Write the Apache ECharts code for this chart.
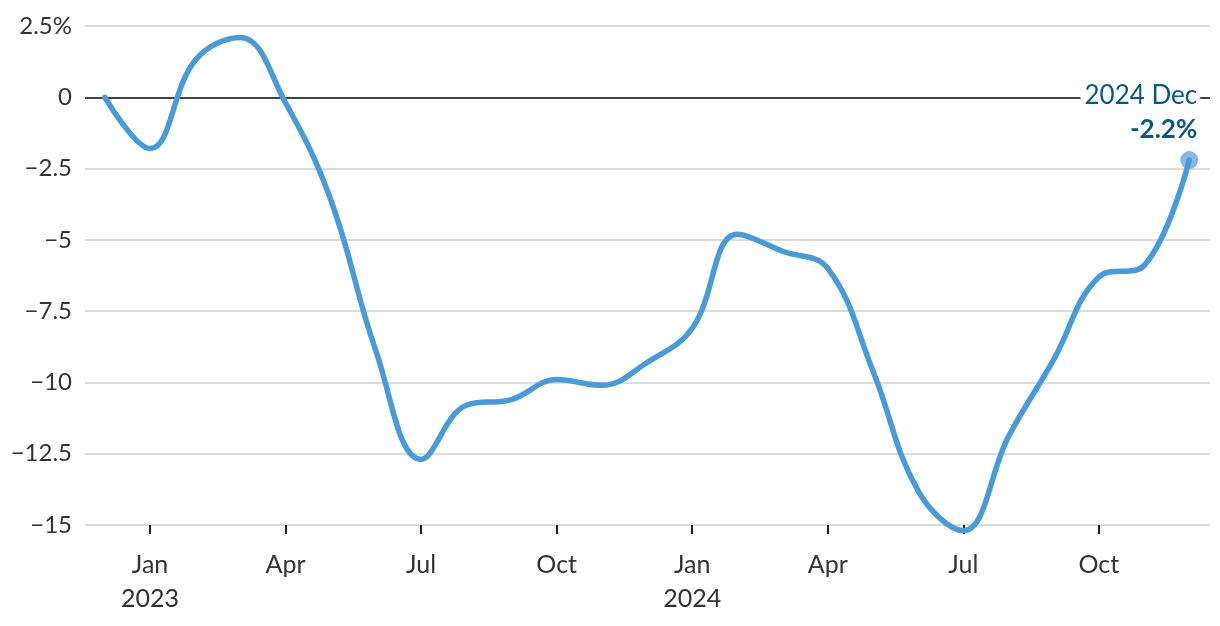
<!DOCTYPE html>
<html><head><meta charset="utf-8">
<script src="https://cdn.jsdelivr.net/npm/echarts@6/dist/echarts.min.js"></script>
<style>html,body{margin:0;padding:0;background:#fff}#c{width:1220px;height:626px}</style>
</head><body><div id="c"></div>
<script>
// Month index 0 = Dec 2022 ... 24 = Dec 2024
const months = ['Dec 2022','Jan 2023','Feb 2023','Mar 2023','Apr 2023','May 2023','Jun 2023','Jul 2023','Aug 2023','Sep 2023','Oct 2023','Nov 2023','Dec 2023',
  'Jan 2024','Feb 2024','Mar 2024','Apr 2024','May 2024','Jun 2024','Jul 2024','Aug 2024','Sep 2024','Oct 2024','Nov 2024','Dec 2024'];
const values = [0, -1.8, 1.3, 2.1, -0.2, -3.6, -8.9, -12.7, -10.8, -10.6, -9.9, -10.1, -9.3,
  -8.1, -4.8, -5.4, -6.0, -9.6, -13.8, -15.2, -11.9, -9.2, -6.3, -5.9, -2.2];
const xTickIdx = [1, 4, 7, 10, 13, 16, 19, 22];
const xTickLabels = ['Jan\n2023', 'Apr', 'Jul', 'Oct', 'Jan\n2024', 'Apr', 'Jul', 'Oct'];
const yTickValues = [2.5, 0, -2.5, -5, -7.5, -10, -12.5, -15];
const yTickLabels = ['2.5%', '0', '\u22122.5', '\u22125', '\u22127.5', '\u221210', '\u221212.5', '\u221215'];
const endLabelTitle = '2024 Dec';
const endLabelValue = '-2.2%';

const FONT = 'Lato, "Open Sans", sans-serif';
const chart = echarts.init(document.getElementById('c'), null, {renderer: 'canvas'});
const lineData = values.map((v, i) => [i, v]);
const last = lineData[lineData.length - 1];

chart.setOption({
  animation: false,
  grid: {left: 85, right: 10, top: 26, bottom: 101, containLabel: false},
  xAxis: {
    type: 'value', min: -0.44, max: 24.46,
    splitLine: {show: false},
    axisLine: {show: false, onZero: false},
    axisTick: {show: true, customValues: xTickIdx, length: 9, lineStyle: {color: '#222', width: 2}},
    axisLabel: {
      customValues: xTickIdx,
      formatter: v => xTickLabels[xTickIdx.indexOf(Math.round(v))] || '',
      color: '#333', fontSize: 25, fontFamily: FONT, lineHeight: 34, margin: 23
    }
  },
  yAxis: {
    type: 'value', min: -15, max: 2.5, interval: 2.5,
    axisLine: {show: false}, axisTick: {show: false},
    splitLine: {lineStyle: {color: '#d0d0d0', width: 1.5}},
    axisLabel: {
      formatter: v => { const k = yTickValues.findIndex(t => Math.abs(t - v) < 1e-6); return k >= 0 ? yTickLabels[k] : ''; },
      color: '#333', fontSize: 24, fontFamily: FONT, margin: 13
    }
  },
  series: [
    {
      type: 'line', data: lineData, smooth: 0.4, showSymbol: false, z: 3, clip: false,
      lineStyle: {color: '#4a9ad8', width: 5.5, cap: 'round'},
      markLine: {
        silent: true, symbol: 'none', label: {show: false}, z: 2,
        lineStyle: {color: '#111', width: 1.5, type: 'solid'},
        data: [{yAxis: 0}]
      }
    },
    {
      type: 'scatter', data: [last], symbolSize: 18, z: 2, clip: false,
      itemStyle: {color: '#86bae4', opacity: 1},
      label: {
        show: true, position: [20, -4], align: 'right', verticalAlign: 'bottom', opacity: 1,
        formatter: '{a|' + endLabelTitle + '}\n{b|' + endLabelValue + '}',
        rich: {
          a: {fontSize: 26, fontFamily: FONT, color: '#0b5686', lineHeight: 34, align: 'right', backgroundColor: '#fff', padding: [0, 3, 0, 4]},
          b: {fontSize: 26, fontFamily: FONT, fontWeight: 'bold', color: '#0b5686', lineHeight: 34, align: 'right', padding: [0, 3, 0, 0]}
        }
      }
    }
  ]
});
</script></body></html>
